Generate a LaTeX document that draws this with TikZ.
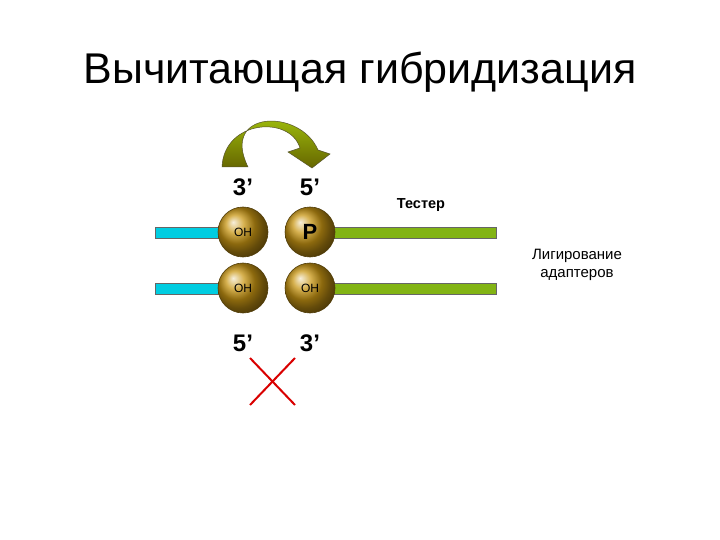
\documentclass[tikz,border=0pt]{standalone}
\usepackage{fontspec}
\setmainfont{Liberation Sans}
\definecolor{grn}{RGB}{130,180,20}
\definecolor{cyn}{RGB}{0,205,225}
\definecolor{gold}{RGB}{200,150,20}
\begin{document}
\begin{tikzpicture}[x=1pt,y=-1pt,
  ball/.style={circle,minimum size=50pt,inner sep=0pt,draw=black!60!gold,line width=0.6pt,ball color=gold,shading=ball},
  cyanbar/.style={fill=cyn,draw=black!60,line width=0.5pt},
  greenbar/.style={fill=grn,draw=black!60,line width=0.5pt},
  lbl/.style={font=\fontsize{24}{26}\selectfont\bfseries},
  small/.style={font=\fontsize{14.5}{16}\selectfont\bfseries}]
\useasboundingbox (0,0) rectangle (720,540);
\node at (360,72) {\fontsize{43}{46}\selectfont Вычитающая гибридизация};
% bars
\draw[cyanbar] (155,227) rectangle (220,238);
\draw[cyanbar] (155,283) rectangle (220,294);
\draw[greenbar] (333,227) rectangle (496,238);
\draw[greenbar] (333,283) rectangle (496,294);
\node[ball] (a) at (243,232) {\fontsize{12}{14}\selectfont OH};
\node[ball] (b) at (310,232) {\fontsize{22}{24}\selectfont\bfseries P};
\node[ball] (c) at (243,288) {\fontsize{12}{14}\selectfont OH};
\node[ball] (d) at (310,288) {\fontsize{12}{14}\selectfont OH};
\node[lbl] at (243,187) {3’};
\node[lbl] at (310,187) {5’};
\node[lbl] at (243,343) {5’};
\node[lbl] at (310,343) {3’};
\node[small] at (421,205) {Тестер};
\node[font=\fontsize{15}{18}\selectfont,align=center] at (577,265) {Лигирование\\адаптеров};
% curved arrow
\shade[top color=grn!70!yellow,bottom color=olive!80!black,draw=olive!50!black,line width=0.5pt]
 (222,167) .. controls (224,120) and (290,115) .. (300,148)
 -- (288,152) -- (312,168) -- (330,154) -- (318,150)
 .. controls (300,108) and (220,110) .. (248,167) -- cycle;
% cross
\coordinate (x1) at (250,358); \coordinate (x2) at (295,405);
\coordinate (x3) at (295,358); \coordinate (x4) at (250,405);
\draw[red!85!black,line width=2pt] (x1) -- (x2) (x3) -- (x4);
\end{tikzpicture}
\end{document}
